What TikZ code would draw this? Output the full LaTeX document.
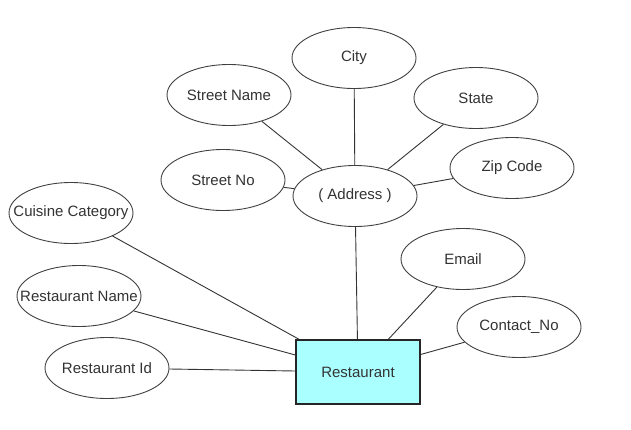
\documentclass[tikz,border=0pt]{standalone}
\usepackage{fontspec}
\setmainfont{Liberation Sans}
\usetikzlibrary{shapes.geometric}
\definecolor{entityfill}{HTML}{AAFFFF}
\newcommand*{\lbl}[1]{\makebox[0pt]{#1}}

\begin{document}
\begin{tikzpicture}[x=1pt,y=-1pt,
    attr/.style={ellipse,draw=black!75,line width=0.9pt,fill=white,inner sep=0pt,
      minimum width=124pt,minimum height=61pt,text=black!80,font=\fontsize{15}{18}\selectfont},
    entity/.style={rectangle,draw=black!85,line width=1.2pt,fill=entityfill,
      minimum width=124pt,minimum height=64pt,text=black!80,font=\fontsize{15}{18}\selectfont},
    link/.style={draw=black!80,line width=0.9pt}]
      \useasboundingbox (0,0) rectangle (631,429);

      % entity
      \node[entity] (restaurant) at (358,372) {Restaurant};

      % composite attribute and its parts
      \node[attr] (address) at (355,196) {\lbl{( Address )}};
      \node[attr] (city) at (354,58) {\lbl{City}};
      \node[attr] (streetname) at (229,95) {\lbl{Street Name}};
      \node[attr] (state) at (476,98) {\lbl{State}};
      \node[attr] (streetno) at (223,180) {\lbl{Street No}};
      \node[attr] (zipcode) at (512,168) {\lbl{Zip Code}};

      % restaurant attributes
      \node[attr] (cuisine) at (71,213) {\lbl{Cuisine Category}};
      \node[attr] (restname) at (79,296) {\lbl{Restaurant Name}};
      \node[attr] (restid) at (107,368) {\lbl{Restaurant Id}};
      \node[attr] (email) at (463,259) {\lbl{Email}};
      \node[attr] (contact) at (519,327) {\lbl{Contact\_No}};

      % address links
      \draw[link] (city) -- (address);
      \draw[link] (streetname) -- (address);
      \draw[link] (state) -- (address);
      \draw[link] (streetno) -- (address);
      \draw[link] (zipcode) -- (address);

      % entity links
      \draw[link] (address) -- (restaurant);
      \draw[link] (cuisine) -- (restaurant);
      \draw[link] (restname) -- (restaurant);
      \draw[link] (restid) -- (restaurant);
      \draw[link] (email) -- (restaurant);
      \draw[link] (contact) -- (restaurant);
    \end{tikzpicture}
\end{document}
